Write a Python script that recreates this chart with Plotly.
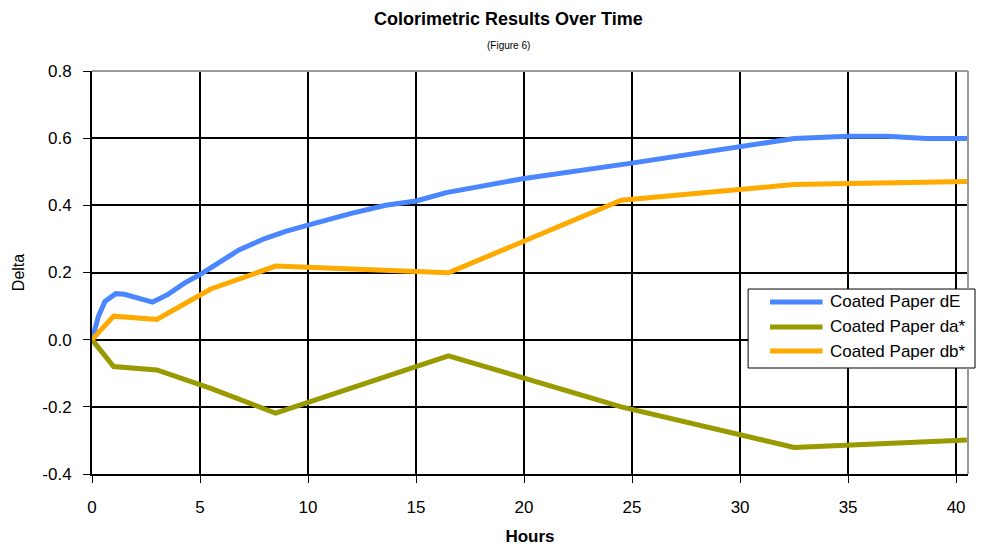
import plotly.graph_objects as go

# Data
hours_de = [0, 0.3, 0.6, 1.1, 1.5, 2.0, 2.8, 3.5, 4.3, 5.0, 5.9, 6.8, 8.0, 9.0, 10.0,
            12.0, 13.6, 14.3, 15.0, 16.4, 18.5, 20.0, 24.9, 30.0, 32.5, 35.0, 36.8, 38.6, 40.5]
de_values = [0, 0.07, 0.114, 0.137, 0.135, 0.127, 0.112, 0.134, 0.169, 0.194, 0.229, 0.267,
             0.301, 0.323, 0.341, 0.376, 0.40, 0.405, 0.413, 0.438, 0.463, 0.48, 0.525, 0.577,
             0.599, 0.606, 0.606, 0.599, 0.599]

hours = [0, 1, 3, 5.5, 8.5, 16.5, 24.5, 32.5, 40.5]
da_values = [0, -0.08, -0.09, -0.145, -0.219, -0.048, -0.20, -0.321, -0.299]
db_values = [0, 0.07, 0.06, 0.151, 0.219, 0.199, 0.415, 0.462, 0.471]

series_names = ["Coated Paper dE", "Coated Paper da*", "Coated Paper db*"]
series_colors = ["#4A86FF", "#999900", "#FFAA00"]

x_ticks = [0, 5, 10, 15, 20, 25, 30, 35, 40]
y_ticks = [-0.4, -0.2, 0.0, 0.2, 0.4, 0.6, 0.8]
y_tick_text = ["-0.4", "-0.2", "0.0", "0.2", "0.4", "0.6", "0.8"]

title_text = "Colorimetric Results Over Time"
subtitle_text = "(Figure 6)"
x_title = "Hours"
y_title = "Delta"

FONT = "Liberation Sans, Arial, sans-serif"

fig = go.Figure()
for xs, ys, name, color in [
    (hours_de, de_values, series_names[0], series_colors[0]),
    (hours, da_values, series_names[1], series_colors[1]),
    (hours, db_values, series_names[2], series_colors[2]),
]:
    fig.add_trace(go.Scatter(x=xs, y=ys, mode="lines", name=name, showlegend=False,
                             line=dict(color=color, width=5), cliponaxis=False))

# Legend box drawn to match the reference (paper coordinates of the plot area)
legend_box = dict(x0=0.749, x1=1.008, y0=0.263, y1=0.459)
legend_rows = [0.427, 0.365, 0.305]
shapes = [
    dict(type="rect", xref="paper", yref="paper", **legend_box,
         line=dict(color="black", width=1), fillcolor="white", layer="above"),
    dict(type="line", xref="paper", yref="paper", x0=0, x1=1, y0=1, y1=1,
         line=dict(color="#999999", width=2), layer="above"),
    dict(type="line", xref="paper", yref="paper", x0=1, x1=1, y0=0, y1=0.263,
         line=dict(color="#999999", width=2), layer="above"),
    dict(type="line", xref="paper", yref="paper", x0=1, x1=1, y0=0.459, y1=1,
         line=dict(color="#999999", width=2), layer="above"),
]
annotations = [
    dict(text="<b>" + title_text + "</b>", xref="paper", yref="paper",
         x=0.475, y=1, yshift=52, xanchor="center", yanchor="middle",
         showarrow=False, font=dict(size=18, family=FONT)),
    dict(text=subtitle_text, xref="paper", yref="paper",
         x=0.475, y=1, yshift=26, xanchor="center", yanchor="middle",
         showarrow=False, font=dict(size=10, family=FONT)),
]
for name, color, ry in zip(series_names, series_colors, legend_rows):
    shapes.append(dict(type="line", xref="paper", yref="paper", x0=0.774, x1=0.834,
                       y0=ry, y1=ry, line=dict(color=color, width=5), layer="above"))
    annotations.append(dict(text=name, xref="paper", yref="paper", x=0.840, y=ry,
                            xanchor="left", yanchor="middle", showarrow=False,
                            font=dict(size=17, family=FONT)))

fig.update_layout(
    width=980, height=540,
    margin=dict(l=84, r=20, t=63, b=74, autoexpand=False),
    paper_bgcolor="white", plot_bgcolor="white",
    font=dict(family=FONT, size=16, color="black"),
    showlegend=False,
    xaxis=dict(range=[0, 40.55], tickvals=x_ticks, showgrid=True, gridcolor="black",
               gridwidth=1.5, showline=True, linecolor="black", linewidth=2,
               ticks="outside", ticklen=7, tickcolor="black", zeroline=False,
               ticklabelstandoff=10, tickfont=dict(size=17),
               title=dict(text="<b>" + x_title + "</b>", font=dict(size=17), standoff=14)),
    yaxis=dict(range=[-0.4, 0.8], tickvals=y_ticks, ticktext=y_tick_text, showgrid=True,
               gridcolor="black", gridwidth=1.5, showline=True, linecolor="black",
               linewidth=2, ticks="outside", ticklen=7, tickcolor="black", zeroline=False,
               ticklabelstandoff=8, tickfont=dict(size=17),
               title=dict(text=y_title, font=dict(size=16), standoff=14)),
    shapes=shapes,
    annotations=annotations,
)

fig.write_html("out.html")
